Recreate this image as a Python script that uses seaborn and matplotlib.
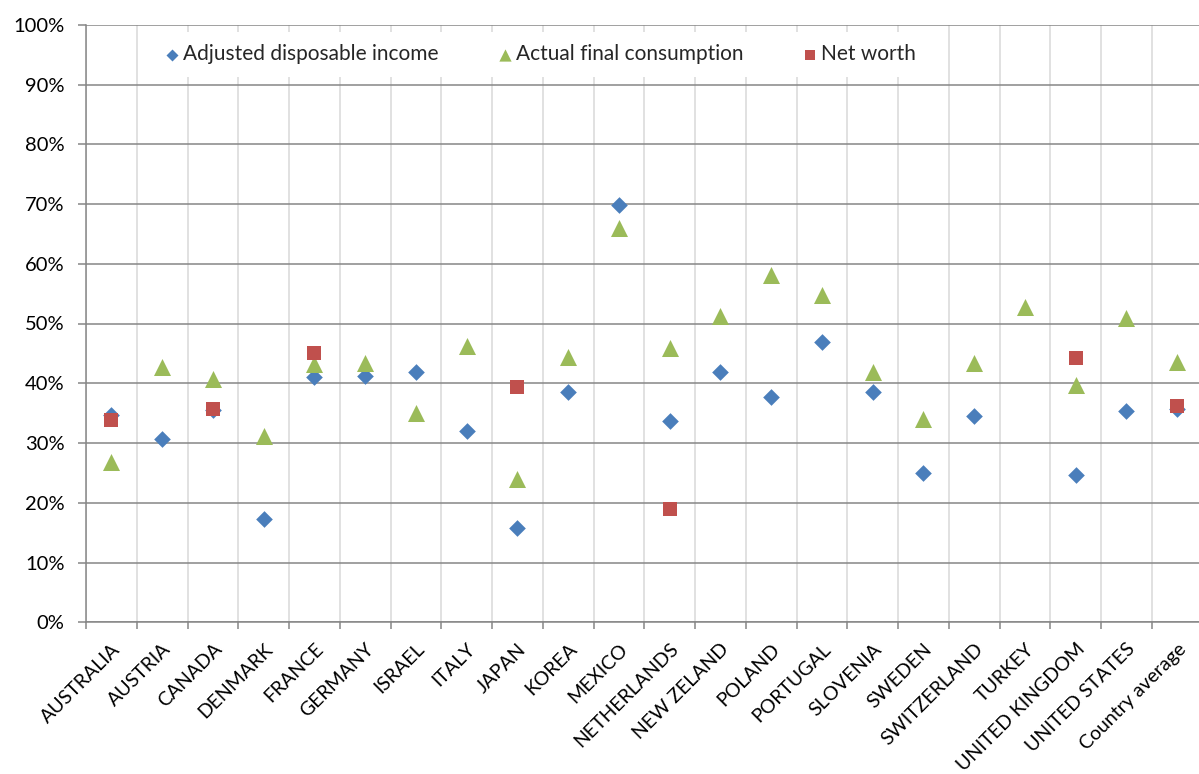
import numpy as np
import pandas as pd
import matplotlib
matplotlib.use("Agg")
import matplotlib.pyplot as plt
import matplotlib.transforms as mtransforms
from matplotlib.ticker import FixedLocator, PercentFormatter
import seaborn as sns

countries = [
    "AUSTRALIA", "AUSTRIA", "CANADA", "DENMARK", "FRANCE", "GERMANY",
    "ISRAEL", "ITALY", "JAPAN", "KOREA", "MEXICO", "NETHERLANDS",
    "NEW ZELAND", "POLAND", "PORTUGAL", "SLOVENIA", "SWEDEN",
    "SWITZERLAND", "TURKEY", "UNITED KINGDOM", "UNITED STATES",
    "Country average",
]
nan = np.nan
adjusted_disposable_income = [
    34.7, 30.6, 35.6, 17.3, 41.0, 41.2, 41.8, 32.0, 15.7, 38.6, 69.8,
    33.6, 41.8, 37.7, 46.9, 38.6, 24.9, 34.6, nan, 24.7, 35.4, 35.7,
]
actual_final_consumption = [
    26.8, 42.7, 40.7, 31.2, 43.2, 43.4, 35.1, 46.3, 23.9, 44.4, 65.9,
    45.9, 51.3, 58.2, 54.8, 41.9, 34.0, 43.4, 52.8, 39.7, 51.0, 43.6,
]
net_worth = [
    33.9, nan, 35.7, nan, 45.1, nan, nan, nan, 39.3, nan, nan,
    18.9, nan, nan, nan, nan, nan, nan, nan, 44.2, nan, 36.2,
]
y_ticks = list(range(0, 101, 10))

series = [
    ("Adjusted disposable income", adjusted_disposable_income, "D", 72, "#4a7ebb"),
    ("Actual final consumption", actual_final_consumption, "^", 150, "#9bbb59"),
    ("Net worth", net_worth, "s", 106, "#c0504d"),
]

sns.set_style("white")
plt.rcParams["font.family"] = ["Lato", "DejaVu Sans"]

fig = plt.figure(figsize=(11.99, 7.74), dpi=100)
ax = fig.add_axes([86 / 1199, (774 - 622.25) / 774, 1116.5 / 1199, 597.5 / 774])

x_pos = np.arange(len(countries))
for name, values, marker, size, color in series:
    df = pd.DataFrame({"x": x_pos, "y": values}).dropna()
    sns.scatterplot(data=df, x="x", y="y", marker=marker, s=size, color=color,
                    linewidth=0, ax=ax, label=name, zorder=3, clip_on=False)

ax.set_xlim(-0.5, len(countries) - 0.5)
ax.set_ylim(0, 100)
ax.set_xlabel("")
ax.set_ylabel("")

grid_dark = "#868686"
grid_light = "#d9d9d9"

ax.yaxis.set_major_locator(FixedLocator(y_ticks))
ax.yaxis.set_major_formatter(PercentFormatter(decimals=0))
ax.set_xticks(x_pos)
ax.set_xticks(np.arange(-0.5, len(countries), 1.0), minor=True)
ax.set_xticklabels(countries, rotation=45, ha="right", va="top",
                   rotation_mode="anchor")
offset = mtransforms.ScaledTranslation(1.5 / 100, 0, fig.dpi_scale_trans)
for lbl in ax.get_xticklabels():
    lbl.set_transform(lbl.get_transform() + offset)

ax.tick_params(axis="x", which="major", length=0, pad=13, labelsize=14,
               labelcolor="black")
ax.tick_params(axis="x", which="minor", length=5, width=1.1, color=grid_dark,
               direction="out", bottom=True)
ax.tick_params(axis="y", which="major", length=6, width=1.1, color=grid_dark,
               direction="out", left=True, pad=9.5, labelsize=14.5,
               labelcolor="black")

ax.set_axisbelow(True)
ax.grid(False)
ax.grid(axis="y", which="major", color=grid_dark, linewidth=1.1)
ax.grid(axis="x", which="minor", color=grid_light, linewidth=1.1)

for side in ["top", "right"]:
    ax.spines[side].set_visible(False)
for side in ["left", "bottom"]:
    ax.spines[side].set_color(grid_dark)
    ax.spines[side].set_linewidth(1.1)

leg = ax.legend(ncol=3, loc="center", bbox_to_anchor=(540 / 1199, 1 - 54 / 774),
                bbox_transform=fig.transFigure, frameon=True, fancybox=False,
                edgecolor="none", facecolor="white", framealpha=1.0,
                fontsize=15, handletextpad=0.13, columnspacing=2.8,
                borderpad=0.6, handlelength=0.8, markerscale=0.72)
leg.set_zorder(5)

fig.savefig("out.png", dpi=100)
